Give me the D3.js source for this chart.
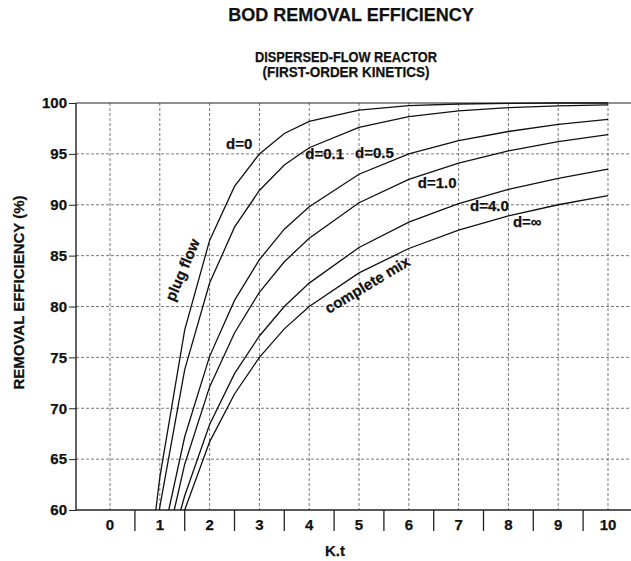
<!DOCTYPE html>
<html>
<head>
<meta charset="utf-8">
<script src="https://cdn.jsdelivr.net/npm/d3@7"></script>
<style>
  html, body { margin: 0; padding: 0; background: #fff; }
  svg { display: block; }
  text { font-family: "Liberation Sans", Arial, Helvetica, sans-serif; font-weight: bold; fill: #111; stroke: #111; stroke-width: 0.25; }
</style>
</head>
<body>
<svg id="chart" width="631" height="561"></svg>
<script>
// Removal efficiency (%) versus K.t for a dispersed-flow reactor, first-order kinetics.
const xTicks = [0, 1, 2, 3, 4, 5, 6, 7, 8, 9, 10];
const xMinorTicks = [0.5, 1.5, 2.5, 3.5, 4.5, 5.5, 6.5, 7.5, 8.5, 9.5];
const yTicks = [60, 65, 70, 75, 80, 85, 90, 95, 100];

const curveNames = ["d=0", "d=0.1", "d=0.5", "d=1.0", "d=4.0", "d=\u221e"];

const kt_d0   = [0.92, 1, 1.5, 2, 2.5, 3, 3.5, 4, 5, 6, 7, 8, 9, 10];
const eff_d0  = [60, 63.2, 77.7, 86.5, 91.8, 95.0, 97.0, 98.2, 99.3, 99.75, 99.9, 99.97, 100, 100];

const kt_d01  = [0.99, 1, 1.5, 2, 2.5, 3, 3.5, 4, 5, 6, 7, 8, 9, 10];
const eff_d01 = [60, 60.3, 73.8, 82.3, 87.8, 91.4, 93.9, 95.6, 97.6, 98.66, 99.22, 99.54, 99.72, 99.82];

const kt_d05  = [1.18, 1.5, 2, 2.5, 3, 3.5, 4, 5, 6, 7, 8, 9, 10];
const eff_d05 = [60, 67.2, 75.1, 80.6, 84.6, 87.6, 89.8, 93.0, 95.0, 96.3, 97.2, 97.9, 98.4];

const kt_d1   = [1.29, 1.5, 2, 2.5, 3, 3.5, 4, 5, 6, 7, 8, 9, 10];
const eff_d1  = [60, 64.5, 72.1, 77.4, 81.4, 84.4, 86.7, 90.2, 92.5, 94.1, 95.3, 96.2, 96.9];

const kt_d4   = [1.42, 1.5, 2, 2.5, 3, 3.5, 4, 5, 6, 7, 8, 9, 10];
const eff_d4  = [60, 61.4, 68.4, 73.4, 77.1, 80.0, 82.3, 85.8, 88.3, 90.1, 91.5, 92.6, 93.5];

const kt_dInf  = [1.5, 2, 2.5, 3, 3.5, 4, 5, 6, 7, 8, 9, 10];
const eff_dInf = [60, 66.7, 71.4, 75.0, 77.8, 80.0, 83.3, 85.7, 87.5, 88.9, 90.0, 90.9];

const seriesKt  = [kt_d0, kt_d01, kt_d05, kt_d1, kt_d4, kt_dInf];
const seriesEff = [eff_d0, eff_d01, eff_d05, eff_d1, eff_d4, eff_dInf];

// ---- layout ----
const svg = d3.select("#chart");
const plot = { left: 76, right: 631, top: 103, bottom: 510 };

const x = d3.scaleLinear().domain([-0.683, 10.462]).range([plot.left, plot.right]);
const y = d3.scaleLinear().domain([60, 100]).range([plot.bottom, plot.top]);

// titles
svg.append("text").attr("x", 351).attr("y", 21).attr("text-anchor", "middle")
  .style("font-size", "18px").text("BOD REMOVAL EFFICIENCY");
svg.append("text").attr("x", 346).attr("y", 62).attr("text-anchor", "middle")
  .style("font-size", "14px").attr("textLength", 182).attr("lengthAdjust", "spacingAndGlyphs")
  .text("DISPERSED-FLOW REACTOR");
svg.append("text").attr("x", 346).attr("y", 77).attr("text-anchor", "middle")
  .style("font-size", "14px").attr("textLength", 167).attr("lengthAdjust", "spacingAndGlyphs")
  .text("(FIRST-ORDER KINETICS)");

// grid
const grid = svg.append("g").attr("stroke", "#555").attr("stroke-width", 0.8)
  .attr("stroke-dasharray", "3,2").attr("fill", "none");
grid.selectAll("line.h").data(yTicks.filter(v => v > 60 && v < 100)).join("line")
  .attr("x1", plot.left).attr("x2", plot.right)
  .attr("y1", d => y(d)).attr("y2", d => y(d));
grid.selectAll("line.v").data(xTicks).join("line")
  .attr("x1", d => x(d)).attr("x2", d => x(d))
  .attr("y1", plot.top).attr("y2", plot.bottom);

// y axis
const yAxis = d3.axisLeft(y).tickValues(yTicks).tickSize(7).tickPadding(2);
const gy = svg.append("g").attr("transform", `translate(${plot.left},0)`).call(yAxis);
gy.select(".domain").remove();
gy.selectAll("line").attr("stroke", "#222").attr("stroke-width", 1);
gy.selectAll("text").style("font-size", "15px").style("font-family", null).attr("fill", "#111");

// x axis: labels at integers, solid ticks at half units
const gx = svg.append("g").attr("transform", `translate(0,${plot.bottom})`);
gx.selectAll("line").data(xMinorTicks).join("line")
  .attr("x1", d => x(d)).attr("x2", d => x(d)).attr("y1", 0).attr("y2", 21)
  .attr("stroke", "#222").attr("stroke-width", 1.3);
gx.selectAll("text").data(xTicks).join("text")
  .attr("x", d => x(d)).attr("y", 20).attr("text-anchor", "middle")
  .style("font-size", "15px").text(d => d);

// frame lines
const frame = svg.append("g").attr("stroke", "#222").attr("fill", "none");
frame.append("line").attr("x1", plot.left).attr("x2", plot.left)
  .attr("y1", plot.top).attr("y2", plot.bottom).attr("stroke-width", 1.4);
frame.append("line").attr("x1", plot.left).attr("x2", plot.right)
  .attr("y1", plot.bottom).attr("y2", plot.bottom).attr("stroke-width", 1.4);
frame.append("line").attr("x1", plot.left).attr("x2", plot.right)
  .attr("y1", plot.top).attr("y2", plot.top).attr("stroke-width", 1.2);

// axis titles
svg.append("text").attr("transform", `translate(24,${(plot.top + plot.bottom) / 2 - 14}) rotate(-90)`)
  .attr("text-anchor", "middle").style("font-size", "15px").text("REMOVAL EFFICIENCY (%)");
svg.append("text").attr("x", 335).attr("y", 556).attr("text-anchor", "middle")
  .style("font-size", "15px").text("K.t");

// curves
const line = d3.line().x(d => x(d[0])).y(d => y(d[1]));
svg.append("g").attr("fill", "none").attr("stroke", "#111").attr("stroke-width", 1.3)
  .selectAll("path").data(seriesKt.map((kts, i) => kts.map((k, j) => [k, seriesEff[i][j]])))
  .join("path").attr("d", line);

// curve labels
const labelAt = [[2.33, 95.5], [3.92, 94.5], [4.92, 94.6], [6.18, 91.65], [7.23, 89.4], [8.09, 87.8]];
svg.append("g").selectAll("text").data(curveNames).join("text")
  .attr("x", (d, i) => x(labelAt[i][0])).attr("y", (d, i) => y(labelAt[i][1]))
  .style("font-size", "15px").text(d => d);

svg.append("text").attr("text-anchor", "middle")
  .attr("transform", `translate(${x(1.55)},${y(83.4)}) rotate(-67)`)
  .style("font-size", "15px").text("plug flow");
svg.append("text").attr("text-anchor", "middle")
  .attr("transform", `translate(${x(5.22)},${y(81.7)}) rotate(-31)`)
  .style("font-size", "15px").text("complete mix");
</script>
</body>
</html>
